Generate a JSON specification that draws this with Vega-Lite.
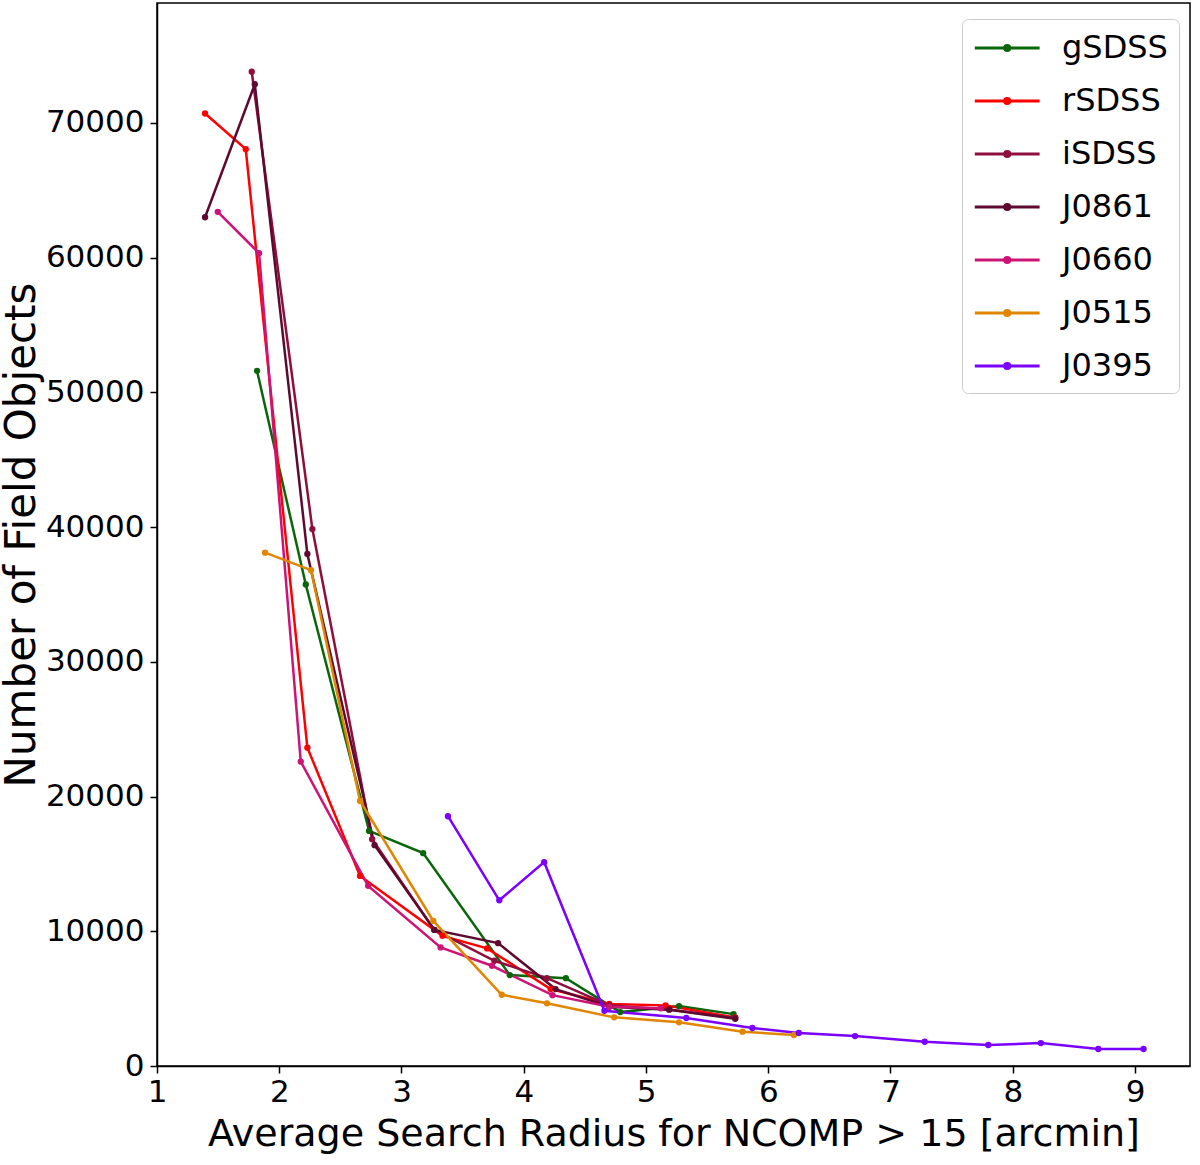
{
  "$schema": "https://vega.github.io/schema/vega-lite/v6.json",
  "width": 1033,
  "height": 1063,
  "autosize": {"type": "none"},
  "padding": {"left": 157, "top": 3, "right": 10, "bottom": 99},
  "background": "white",
  "config": {
    "font": "DejaVu Sans",
    "view": {"stroke": "black", "strokeWidth": 1.5},
    "axis": {"grid": false, "domainColor": "black", "domainWidth": 1.5, "tickColor": "black", "tickWidth": 1.5, "tickSize": 7, "labelColor": "black", "titleColor": "black", "labelFont": "DejaVu Sans", "titleFont": "DejaVu Sans", "labelFontSize": 31, "titleFontSize": 38, "titleFontWeight": "normal", "labelFlush": false}
  },
  "data": {"values": [
    {"band": "gSDSS", "r": 1.818, "n": 51600},
    {"band": "gSDSS", "r": 2.217, "n": 35740},
    {"band": "gSDSS", "r": 2.735, "n": 17450},
    {"band": "gSDSS", "r": 3.177, "n": 15800},
    {"band": "gSDSS", "r": 3.886, "n": 6750},
    {"band": "gSDSS", "r": 4.345, "n": 6520},
    {"band": "gSDSS", "r": 4.79, "n": 4000},
    {"band": "gSDSS", "r": 5.27, "n": 4450},
    {"band": "gSDSS", "r": 5.716, "n": 3850},
    {"band": "rSDSS", "r": 1.393, "n": 70700},
    {"band": "rSDSS", "r": 1.726, "n": 68050},
    {"band": "rSDSS", "r": 2.23, "n": 23630},
    {"band": "rSDSS", "r": 2.661, "n": 14110},
    {"band": "rSDSS", "r": 3.335, "n": 9660},
    {"band": "rSDSS", "r": 3.70, "n": 8730},
    {"band": "rSDSS", "r": 4.22, "n": 5710},
    {"band": "rSDSS", "r": 4.70, "n": 4600},
    {"band": "rSDSS", "r": 5.16, "n": 4500},
    {"band": "rSDSS", "r": 5.73, "n": 3600},
    {"band": "iSDSS", "r": 1.775, "n": 73800},
    {"band": "iSDSS", "r": 2.271, "n": 39850},
    {"band": "iSDSS", "r": 2.76, "n": 16830},
    {"band": "iSDSS", "r": 3.267, "n": 10110},
    {"band": "iSDSS", "r": 3.76, "n": 7810},
    {"band": "iSDSS", "r": 4.19, "n": 6520},
    {"band": "iSDSS", "r": 4.70, "n": 4500},
    {"band": "iSDSS", "r": 5.19, "n": 4200},
    {"band": "iSDSS", "r": 5.73, "n": 3560},
    {"band": "J0861", "r": 1.393, "n": 63000},
    {"band": "J0861", "r": 1.80, "n": 72870},
    {"band": "J0861", "r": 2.23, "n": 38000},
    {"band": "J0861", "r": 2.78, "n": 16390},
    {"band": "J0861", "r": 3.27, "n": 10100},
    {"band": "J0861", "r": 3.79, "n": 9120},
    {"band": "J0861", "r": 4.26, "n": 5710},
    {"band": "J0861", "r": 4.70, "n": 4400},
    {"band": "J0861", "r": 5.19, "n": 4180},
    {"band": "J0861", "r": 5.73, "n": 3500},
    {"band": "J0660", "r": 1.497, "n": 63400},
    {"band": "J0660", "r": 1.835, "n": 60330},
    {"band": "J0660", "r": 2.176, "n": 22590},
    {"band": "J0660", "r": 2.727, "n": 13370},
    {"band": "J0660", "r": 3.32, "n": 8800},
    {"band": "J0660", "r": 3.74, "n": 7440},
    {"band": "J0660", "r": 4.235, "n": 5260},
    {"band": "J0660", "r": 4.70, "n": 4400},
    {"band": "J0660", "r": 5.12, "n": 4280},
    {"band": "J0515", "r": 1.884, "n": 38100},
    {"band": "J0515", "r": 2.26, "n": 36800},
    {"band": "J0515", "r": 2.661, "n": 19670},
    {"band": "J0515", "r": 3.26, "n": 10770},
    {"band": "J0515", "r": 3.82, "n": 5290},
    {"band": "J0515", "r": 4.19, "n": 4650},
    {"band": "J0515", "r": 4.74, "n": 3610},
    {"band": "J0515", "r": 5.27, "n": 3240},
    {"band": "J0515", "r": 5.79, "n": 2550},
    {"band": "J0515", "r": 6.21, "n": 2300},
    {"band": "J0395", "r": 3.38, "n": 18540},
    {"band": "J0395", "r": 3.80, "n": 12300},
    {"band": "J0395", "r": 4.167, "n": 15130},
    {"band": "J0395", "r": 4.66, "n": 4100},
    {"band": "J0395", "r": 5.33, "n": 3560},
    {"band": "J0395", "r": 5.87, "n": 2820},
    {"band": "J0395", "r": 6.25, "n": 2450},
    {"band": "J0395", "r": 6.71, "n": 2220},
    {"band": "J0395", "r": 7.28, "n": 1800},
    {"band": "J0395", "r": 7.80, "n": 1560},
    {"band": "J0395", "r": 8.23, "n": 1700},
    {"band": "J0395", "r": 8.70, "n": 1260},
    {"band": "J0395", "r": 9.07, "n": 1260}
  ]},
  "encoding": {
    "x": {"field": "r", "type": "quantitative", "scale": {"domain": [1, 9.45], "nice": false, "zero": false},
      "axis": {"values": [1, 2, 3, 4, 5, 6, 7, 8, 9], "format": "d", "labelPadding": 4, "titlePadding": 8, "title": "Average Search Radius for NCOMP > 15 [arcmin]"}},
    "y": {"field": "n", "type": "quantitative", "scale": {"domain": [0, 78900], "nice": false},
      "axis": {"values": [0, 10000, 20000, 30000, 40000, 50000, 60000, 70000], "format": "d", "labelPadding": 6, "titlePadding": 2, "titleFontSize": 42, "title": "Number of Field Objects"}},
    "color": {"field": "band", "type": "nominal",
      "scale": {"domain": ["gSDSS", "rSDSS", "iSDSS", "J0861", "J0660", "J0515", "J0395"],
        "range": ["#0a660a", "#ff0000", "#8e0e3c", "#5e0a30", "#cc1477", "#e08600", "#7a00ff"]},
      "legend": {"title": null, "orient": "none", "legendX": 805, "legendY": 16, "symbolType": "M-1,0H3M1.16,0A0.16,0.16 0 1,1 0.84,0A0.16,0.16 0 1,1 1.16,0", "symbolSize": 1050, "symbolStrokeWidth": 3, "labelFontSize": 32, "labelFont": "DejaVu Sans", "labelColor": "black", "labelOffset": 53, "rowPadding": 19, "padding": 11, "strokeColor": "#cccccc", "fillColor": "white", "cornerRadius": 6}}
  },
  "layer": [
    {"mark": {"type": "line", "strokeWidth": 2.5}},
    {"mark": {"type": "circle", "size": 40, "opacity": 1}}
  ]
}
